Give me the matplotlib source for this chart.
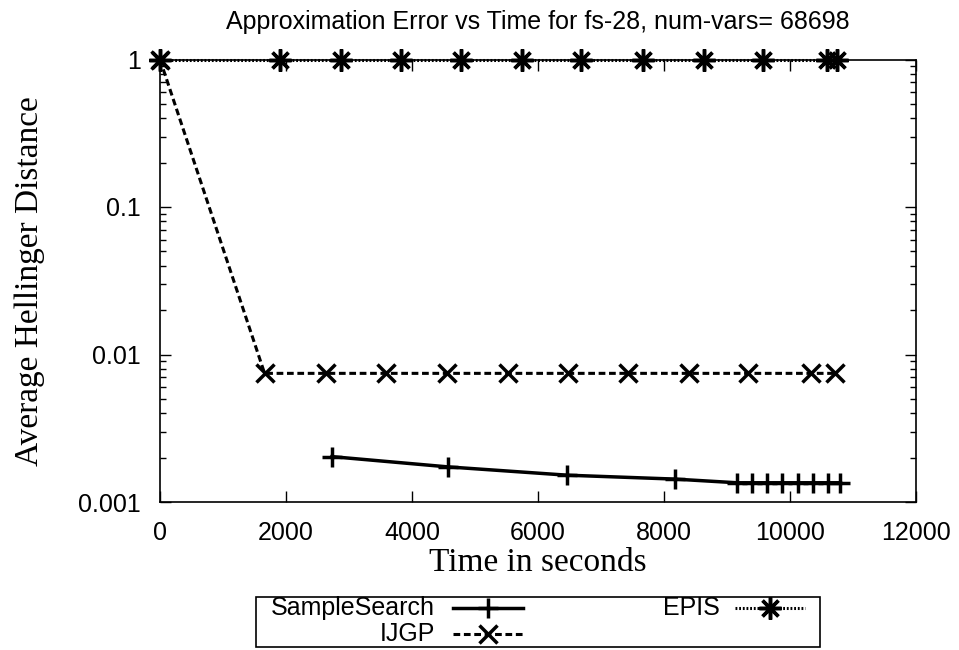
import matplotlib
matplotlib.use("Agg")
import matplotlib.pyplot as plt
from matplotlib.lines import Line2D
from matplotlib.patches import Rectangle
from matplotlib.ticker import LogLocator, FixedLocator, NullFormatter

# data
ss_time = [2730, 4570, 6460, 8170, 9160, 9400, 9640, 9880, 10120, 10360, 10600, 10800]
ss_err = [0.00203, 0.00173, 0.00152, 0.00143, 0.00135, 0.00135, 0.00135, 0.00135,
          0.00135, 0.00135, 0.00135, 0.00135]

ijgp_time = [0, 1660, 2630, 3590, 4550, 5520, 6470, 7430, 8390, 9340, 10330, 10720]
ijgp_err = [1.0, 0.00745, 0.00745, 0.00745, 0.00745, 0.00745, 0.00745, 0.00745,
            0.00745, 0.00745, 0.00745, 0.00745]

epis_time = [0, 1910, 2880, 3830, 4770, 5745, 6690, 7665, 8630, 9570, 10580, 10740]
epis_err = [1.0] * len(epis_time)

x_ticks = [0, 2000, 4000, 6000, 8000, 10000, 12000]
y_ticks = [0.001, 0.01, 0.1, 1]
y_tick_labels = ["0.001", "0.01", "0.1", "1"]

sans = "Liberation Sans"
serif = "Liberation Serif"

W, H = 959, 650
AX_L, AX_R, AX_T, AX_B = 160, 916, 59.5, 502

fig = plt.figure(figsize=(W / 100, H / 100), dpi=100)
ax = fig.add_axes([AX_L / W, 1 - AX_B / H, (AX_R - AX_L) / W, (AX_B - AX_T) / H])

star = (8, 2, 0)
styles = {
    "SampleSearch": dict(color="black", lw=2.5, ls="-", marker="+", ms=14, mew=2.5),
    "IJGP": dict(color="black", lw=2.2, ls=(0, (2.2, 1.2)), marker="x", ms=13, mew=2.5),
    "EPIS": dict(color="black", lw=2.2, ls=(0, (0.6, 0.6)), marker=star, ms=16, mew=2.5),
}

ax.plot(ss_time, ss_err, **styles["SampleSearch"], clip_on=False)
ax.plot(ijgp_time, ijgp_err, **styles["IJGP"], clip_on=False)
ax.plot(epis_time, epis_err, **styles["EPIS"], clip_on=False, zorder=3)

ax.set_yscale("log")
ax.set_xlim(0, 12000)
ax.set_ylim(0.001, 1)
ax.xaxis.set_major_locator(FixedLocator(x_ticks))
ax.set_xticklabels([str(t) for t in x_ticks])
ax.yaxis.set_major_locator(FixedLocator(y_ticks))
ax.set_yticklabels(y_tick_labels)
ax.yaxis.set_minor_locator(LogLocator(base=10, subs=range(2, 10)))
ax.yaxis.set_minor_formatter(NullFormatter())

ax.tick_params(which="both", direction="in", top=True, right=True, width=1)
ax.tick_params(which="major", length=8, labelsize=18, pad=14)
ax.tick_params(which="minor", length=4)
for lbl in ax.get_xticklabels() + ax.get_yticklabels():
    lbl.set_fontfamily(sans)
for sp in ax.spines.values():
    sp.set_linewidth(1.2)

ax_h = AX_B - AX_T
ax_w = AX_R - AX_L
ax.set_title("Approximation Error vs Time for fs-28, num-vars= 68698",
             fontsize=18, family=sans, y=1 + (AX_T - 22) / ax_h, pad=0, va="center")
ax.set_xlabel("Time in seconds", fontsize=24, family=serif, va="center")
ax.xaxis.set_label_coords(0.5, -(563 - AX_B) / ax_h)
ax.set_ylabel("Average Hellinger Distance", fontsize=24, family=serif, va="center")
ax.yaxis.set_label_coords(-(AX_L - 30) / ax_w, 0.5)


# gnuplot-style key below the plot, text right-aligned before the sample
def fx(px):
    return px / W


def fy(py):
    return 1 - py / H


fig.add_artist(Rectangle((fx(256), fy(647)), fx(820) - fx(256), fy(597) - fy(647),
                         transform=fig.transFigure, fill=False, lw=1.2, ec="black"))
key = [("SampleSearch", 435, 453, 523, 608),
       ("IJGP", 435, 453, 523, 634),
       ("EPIS", 720, 735, 805, 608)]
for name, txt_r, x0, x1, y in key:
    fig.text(fx(txt_r), fy(y), name, ha="right", va="center", fontsize=18, family=sans)
    st = dict(styles[name])
    mk, ms, mew = st.pop("marker"), st.pop("ms"), st.pop("mew")
    fig.add_artist(Line2D([fx(x0), fx(x1)], [fy(y), fy(y)], transform=fig.transFigure, **st))
    fig.add_artist(Line2D([fx((x0 + x1) / 2)], [fy(y)], transform=fig.transFigure,
                          marker=mk, ms=ms, mew=mew, color="black", ls="none"))

fig.savefig("out.png", dpi=100)
